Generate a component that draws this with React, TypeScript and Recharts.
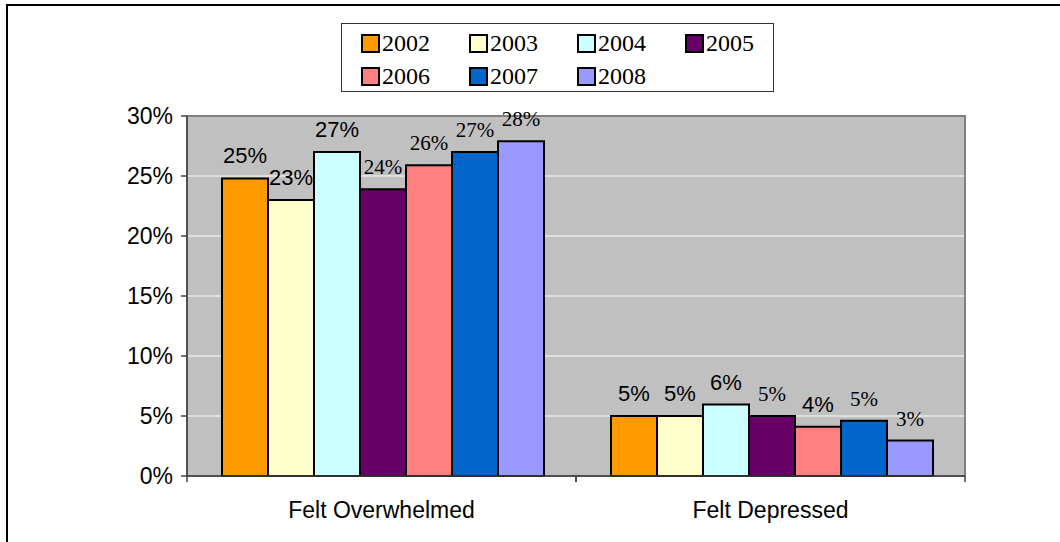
import React from 'react'
import { BarChart, Bar, XAxis, YAxis, CartesianGrid, ReferenceArea, LabelList } from 'recharts'

const categories = ['Felt Overwhelmed', 'Felt Depressed']
const years = ['2002', '2003', '2004', '2005', '2006', '2007', '2008']
const overwhelmed = [24.8, 23.0, 27.0, 23.9, 25.9, 27.0, 27.9]
const depressed = [5.0, 5.0, 5.95, 5.0, 4.1, 4.6, 2.95]
const yTicks = [0, 5, 10, 15, 20, 25, 30]

const colors = ['#FF9900', '#FFFFCC', '#CCFFFF', '#660066', '#FF8080', '#0066CC', '#9999FF']
// some labels in the original are set in a serif face
const serifLabels = [
  [false, false, false, true, true, true, true],
  [false, false, false, true, false, true, true],
]

const SANS = '"Liberation Sans", Arial, sans-serif'
const SERIF = '"Liberation Serif", "Times New Roman", serif'

const seriesByCategory = [overwhelmed, depressed]
const data = categories.map((name, ci) => {
  const row: Record<string, string | number> = { name }
  years.forEach((y, yi) => {
    row[y] = seriesByCategory[ci][yi]
  })
  return row
})

const HALF_BAND = 194.5

function CategoryTick(props: any) {
  const { x, y, payload } = props
  return (
    <g>
      <line x1={x - HALF_BAND} x2={x - HALF_BAND} y1={y} y2={y + 6} stroke="#404040" strokeWidth={1.5} />
      <line x1={x + HALF_BAND} x2={x + HALF_BAND} y1={y} y2={y + 6} stroke="#404040" strokeWidth={1.5} />
      <text x={x} y={y + 42} textAnchor="middle" fontFamily={SANS} fontSize={23} fill="#000">
        {payload.value}
      </text>
    </g>
  )
}

// label value comes in as "categoryIndex|value"
function makeLabel(seriesIndex: number) {
  return (props: any) => {
    const { x, y, width, value } = props
    const [ci, v] = String(value).split('|')
    const serif = serifLabels[Number(ci)]?.[seriesIndex]
    return (
      <text
        x={x + width / 2}
        y={y - 15}
        textAnchor="middle"
        fontFamily={serif ? SERIF : SANS}
        fontSize={serif ? 21 : 22}
        fill="#000"
      >
        {`${Math.round(Number(v))}%`}
      </text>
    )
  }
}

function LegendBox() {
  return (
    <div
      style={{
        position: 'absolute',
        left: 341,
        top: 23,
        width: 431,
        height: 67,
        border: '1px solid #333',
        background: '#fff',
        boxSizing: 'content-box',
      }}
    >
      {years.map((y, i) => {
        const col = i % 4
        const row = Math.floor(i / 4)
        return (
          <div
            key={y}
            style={{
              position: 'absolute',
              left: 19 + col * 108,
              top: 9 + row * 33,
              display: 'flex',
              alignItems: 'center',
              fontFamily: SERIF,
              fontSize: 24,
              lineHeight: '20px',
              color: '#000',
            }}
          >
            <span
              style={{
                display: 'inline-block',
                width: 15,
                height: 15,
                background: colors[i],
                border: '2px solid #000',
                marginRight: 2,
              }}
            />
            {y}
          </div>
        )
      })}
    </div>
  )
}

export default function App() {
  return (
    <div style={{ position: 'fixed', left: 0, top: 0, width: 1060, height: 542, background: '#fff' }}>
      <div
        style={{
          position: 'absolute',
          left: 6,
          top: 4,
          width: 1060,
          height: 542,
          borderTop: '2px solid #000',
          borderLeft: '2px solid #000',
        }}
      />
      <BarChart
        width={1060}
        height={542}
        data={data}
        margin={{ top: 116, right: 95, bottom: 0, left: 0 }}
        barCategoryGap={35}
        barGap={0}
        style={{ position: 'absolute', left: 0, top: 0 }}
      >
        <CartesianGrid fill="#C0C0C0" stroke="#FFFFFF" strokeWidth={1} vertical={false} />
        <ReferenceArea y1={0} y2={30} fill="none" stroke="#808080" strokeWidth={2} />
        <XAxis
          dataKey="name"
          height={66}
          tickSize={0}
          tickMargin={0}
          tickLine={false}
          axisLine={{ stroke: '#404040', strokeWidth: 1.5 }}
          tick={<CategoryTick />}
          interval={0}
        />
        <YAxis
          width={187}
          domain={[0, 30]}
          ticks={yTicks}
          interval={0}
          tickFormatter={(v: number) => `${v}%`}
          tickSize={6}
          tickMargin={8}
          axisLine={{ stroke: '#404040', strokeWidth: 1.5 }}
          tickLine={{ stroke: '#404040', strokeWidth: 1.5 }}
          tick={{ fontFamily: SANS, fontSize: 23, fill: '#000' }}
        />
        {years.map((y, i) => (
          <Bar key={y} dataKey={y} fill={colors[i]} stroke="#000" strokeWidth={2} isAnimationActive={false}>
            <LabelList
              dataKey={(entry: any) => `${categories.indexOf(entry.name)}|${entry[y]}`}
              content={makeLabel(i)}
            />
          </Bar>
        ))}
      </BarChart>
      <LegendBox />
    </div>
  )
}
